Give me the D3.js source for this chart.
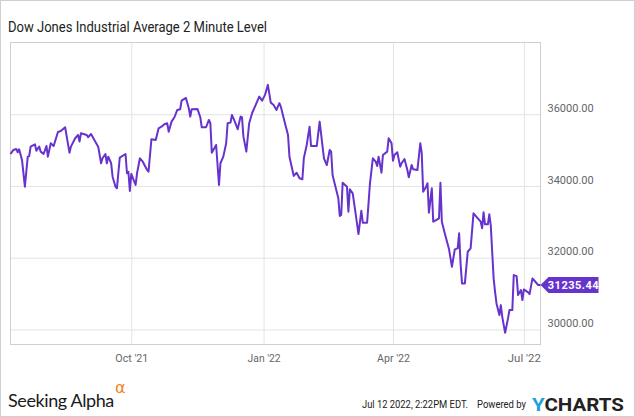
<!DOCTYPE html>
<html><head><meta charset="utf-8">
<script src="https://cdn.jsdelivr.net/npm/d3@7"></script>
<style>body{margin:0;background:#fff}svg{display:block}</style>
</head><body>
<svg id="c" width="635" height="417"></svg>
<script>
const title = "Dow Jones Industrial Average 2 Minute Level";
const dates = ["2021-07-09","2021-07-11","2021-07-13","2021-07-14","2021-07-15","2021-07-17","2021-07-19","2021-07-21","2021-07-22","2021-07-23","2021-07-26","2021-07-27","2021-07-29","2021-07-30","2021-08-01","2021-08-03","2021-08-04","2021-08-06","2021-08-08","2021-08-11","2021-08-13","2021-08-16","2021-08-19","2021-08-20","2021-08-23","2021-08-25","2021-08-26","2021-08-27","2021-08-31","2021-09-01","2021-09-03","2021-09-06","2021-09-08","2021-09-10","2021-09-11","2021-09-13","2021-09-14","2021-09-15","2021-09-17","2021-09-18","2021-09-20","2021-09-21","2021-09-23","2021-09-27","2021-09-28","2021-09-29","2021-09-30","2021-10-01","2021-10-04","2021-10-05","2021-10-07","2021-10-09","2021-10-12","2021-10-13","2021-10-15","2021-10-18","2021-10-20","2021-10-22","2021-10-24","2021-10-26","2021-10-27","2021-10-29","2021-10-31","2021-11-02","2021-11-04","2021-11-05","2021-11-08","2021-11-10","2021-11-11","2021-11-12","2021-11-16","2021-11-18","2021-11-19","2021-11-22","2021-11-24","2021-11-25","2021-11-26","2021-11-29","2021-12-01","2021-12-02","2021-12-04","2021-12-06","2021-12-07","2021-12-09","2021-12-10","2021-12-12","2021-12-14","2021-12-16","2021-12-17","2021-12-18","2021-12-20","2021-12-22","2021-12-24","2021-12-26","2021-12-29","2021-12-31","2022-01-02","2022-01-04","2022-01-06","2022-01-08","2022-01-10","2022-01-12","2022-01-13","2022-01-15","2022-01-18","2022-01-19","2022-01-22","2022-01-24","2022-01-26","2022-01-28","2022-01-29","2022-01-31","2022-02-02","2022-02-03","2022-02-07","2022-02-09","2022-02-12","2022-02-14","2022-02-16","2022-02-17","2022-02-18","2022-02-20","2022-02-22","2022-02-23","2022-02-24","2022-02-25","2022-02-28","2022-03-01","2022-03-02","2022-03-04","2022-03-06","2022-03-08","2022-03-10","2022-03-11","2022-03-14","2022-03-15","2022-03-16","2022-03-18","2022-03-20","2022-03-21","2022-03-22","2022-03-24","2022-03-25","2022-03-28","2022-03-29","2022-03-31","2022-04-01","2022-04-02","2022-04-04","2022-04-06","2022-04-07","2022-04-09","2022-04-11","2022-04-12","2022-04-14","2022-04-15","2022-04-18","2022-04-20","2022-04-21","2022-04-22","2022-04-24","2022-04-25","2022-04-26","2022-04-28","2022-04-29","2022-05-01","2022-05-03","2022-05-04","2022-05-05","2022-05-07","2022-05-10","2022-05-12","2022-05-14","2022-05-16","2022-05-17","2022-05-18","2022-05-19","2022-05-21","2022-05-23","2022-05-25","2022-05-27","2022-05-30","2022-06-01","2022-06-02","2022-06-03","2022-06-04","2022-06-06","2022-06-07","2022-06-08","2022-06-10","2022-06-11","2022-06-12","2022-06-14","2022-06-15","2022-06-16","2022-06-18","2022-06-20","2022-06-21","2022-06-23","2022-06-24","2022-06-26","2022-06-27","2022-06-29","2022-06-30","2022-07-01","2022-07-04","2022-07-05","2022-07-07","2022-07-09","2022-07-11","2022-07-12T14:22"];
const values = [34892,35004,35032,34940,35023,34725,33980,34817,34836,35096,35163,34984,35096,34957,34892,35115,34817,35191,35115,35506,35534,35637,34929,35096,35330,35422,35236,35470,35422,35358,35450,35236,35096,34633,34772,34892,34633,34817,34633,34259,33980,33935,34789,34892,34354,34398,33860,34334,34027,34354,34772,34677,34446,34398,35302,35283,35609,35654,35721,35749,35514,35794,35916,36120,36140,36380,36455,36167,35933,36140,36148,35916,35637,35637,35841,35749,34929,35143,34027,34633,34817,35191,35749,35766,35980,35794,35581,35933,35916,35375,34957,35749,36028,36212,36491,36380,36539,36818,36324,36260,36120,36307,36212,35888,35422,34817,34279,34370,34214,34186,34772,35143,35654,35115,35115,35794,34772,34585,35004,34957,34306,33980,33656,33162,33190,34091,33980,33282,33907,33795,33237,32660,33310,32975,32975,33516,34075,34772,34677,34557,34817,34370,34864,34957,35330,35191,34705,34864,34940,34538,34633,34753,34446,34242,34585,34465,34446,35191,34912,33840,33980,34075,33254,33935,33003,33050,33098,34091,33003,32679,32233,31747,32233,32260,32679,31842,31284,31284,32166,32260,33237,33098,33003,32819,33265,32930,32930,33209,32911,31423,31049,30726,30399,30678,30352,29905,30307,30539,30539,31515,31487,30958,31097,30818,31116,31033,30985,31423,31330,31237,31235.44];
const yTicks = [30000, 32000, 34000, 36000];
const xTickDates = ["2021-10-01","2022-01-01","2022-04-01","2022-07-01"];
const xTickLabels = ["Oct '21","Jan '22","Apr '22","Jul '22"];
const lastLabel = "31235.44";

const svg = d3.select("#c");
const W = 635, H = 417;
const L = 10.5, R = 540.5, T = 42.5, B = 344.5;
const parse = s => new Date(s.length > 10 ? s : s + "T00:00");
const data = dates.map((d, i) => ({ d: parse(d), v: values[i] }));

const x = d3.scaleTime().domain([parse("2021-07-09"), parse("2022-07-12T14:22")]).range([L, R]);
const y = d3.scaleLinear().domain([29580, 38000]).range([B, T]);

svg.append("rect").attr("x", 0.5).attr("y", 0.5).attr("width", W - 1).attr("height", H - 1)
  .attr("fill", "#fff").attr("stroke", "#d0d0d0");

// gridlines
const gy = svg.append("g").attr("transform", `translate(${L},0)`)
  .call(d3.axisRight(y).tickValues(yTicks).tickSize(R - L).tickFormat(""));
gy.select(".domain").remove();
gy.selectAll("line").attr("stroke", "#e3e3e3");
const gx = svg.append("g").attr("transform", `translate(0,${T})`)
  .call(d3.axisBottom(x).tickValues(xTickDates.map(parse)).tickSize(B - T).tickFormat(""));
gx.select(".domain").remove();
gx.selectAll("line").attr("stroke", "#e3e3e3");

// frame
svg.append("rect").attr("x", L).attr("y", T).attr("width", R - L).attr("height", B - T)
  .attr("fill", "none").attr("stroke", "#cfcfcf");

// axis labels
const ya = svg.append("g").attr("transform", `translate(${R},0)`)
  .call(d3.axisRight(y).tickValues(yTicks).tickSize(0).tickPadding(7).tickFormat(d3.format(".2f")));
ya.select(".domain").remove();
ya.selectAll("text").attr("font-family", "Roboto").attr("font-size", 11).attr("fill", "#666")
  .attr("dy", "-0.25em");

const xa = svg.append("g").attr("transform", `translate(0,${B})`)
  .call(d3.axisBottom(x).tickValues(xTickDates.map(parse)).tickSize(0).tickPadding(9)
    .tickFormat((d, i) => xTickLabels[i]));
xa.select(".domain").remove();
xa.selectAll("text").attr("font-family", "Roboto").attr("font-size", 11.5).attr("fill", "#666")
  .attr("textLength", 33).attr("lengthAdjust", "spacingAndGlyphs");

// line
const line = d3.line().x(d => x(d.d)).y(d => y(d.v));
svg.append("path").datum(data).attr("d", line).attr("fill", "none")
  .attr("stroke", "#6633cc").attr("stroke-width", 2).attr("stroke-linejoin", "round");

// last value label
const last = data[data.length - 1];
const ly = y(last.v);
svg.append("path").attr("d", `M${R},${ly} L${R + 8},${ly - 8} L${R + 58},${ly - 8} L${R + 58},${ly + 8} L${R + 8},${ly + 8} Z`)
  .attr("fill", "#6633cc");
svg.append("text").attr("x", R + 33).attr("y", ly).attr("dy", "0.36em").attr("text-anchor", "middle")
  .attr("font-family", "Roboto").attr("font-weight", "bold").attr("font-size", 11).attr("letter-spacing", 0.5)
  .attr("fill", "#fff").text(lastLabel);

// title
svg.append("text").attr("x", 8).attr("y", 32).attr("font-family", "Roboto").attr("font-size", 14.5)
  .attr("fill", "#222").attr("textLength", 259).attr("lengthAdjust", "spacingAndGlyphs").text(title);

// footer
svg.append("text").attr("x", 8).attr("y", 407).attr("font-family", "Lato, 'Open Sans'").attr("font-size", 18)
  .attr("fill", "#1a1a1a").attr("letter-spacing", -0.4).text("Seeking Alpha");
svg.append("text").attr("x", 115).attr("y", 393).attr("font-family", "DejaVu Sans").attr("font-size", 16)
  .attr("fill", "#f58220").text("α");
svg.append("text").attr("x", 362).attr("y", 408).attr("font-family", "Roboto")
  .attr("font-size", 10.2).attr("fill", "#222").attr("textLength", 106).attr("lengthAdjust", "spacingAndGlyphs")
  .text("Jul 12 2022, 2:22PM EDT.");
svg.append("text").attr("x", 477).attr("y", 408).attr("font-family", "Roboto")
  .attr("font-size", 10).attr("fill", "#222").attr("textLength", 49).attr("lengthAdjust", "spacingAndGlyphs")
  .text("Powered by");
const yc = svg.append("text").attr("x", 532).attr("y", 411).attr("font-family", "Roboto")
  .attr("font-size", 19).attr("font-weight", "bold").attr("textLength", 92).attr("lengthAdjust", "spacingAndGlyphs");
yc.append("tspan").attr("fill", "#1ea0dc").text("Y");
yc.append("tspan").attr("fill", "#222").text("CHARTS");
</script>
</body></html>
